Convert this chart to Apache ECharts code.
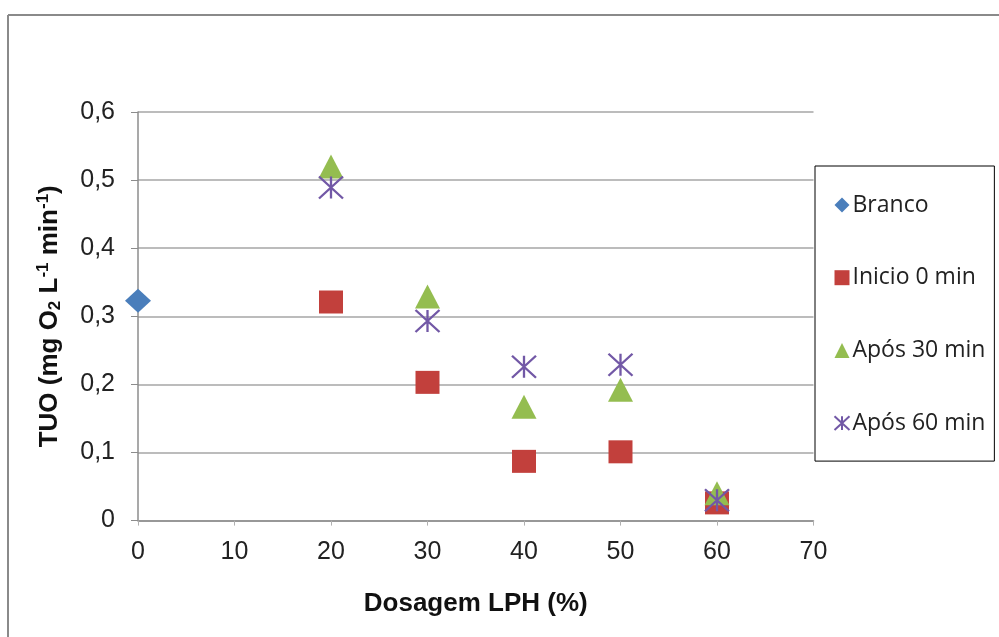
<!DOCTYPE html>
<html><head><meta charset="utf-8">
<script src="https://cdn.jsdelivr.net/npm/echarts@6/dist/echarts.min.js"></script>
<style>html,body{margin:0;padding:0;background:#fff}#c{width:999px;height:637px}</style>
</head><body><div id="c"></div>
<script>
const xTicks = [0, 10, 20, 30, 40, 50, 60, 70];
const yTicks = [0, 0.1, 0.2, 0.3, 0.4, 0.5, 0.6];
const seriesNames = ['Branco', 'Inicio 0 min', 'Após 30 min', 'Após 60 min'];
const brancoX = [0];
const brancoY = [0.323];
const dosesX = [20, 30, 40, 50, 60];
const inicio0 = [0.321, 0.203, 0.087, 0.101, 0.026];
const apos30 = [0.520, 0.329, 0.167, 0.192, 0.040];
const apos60 = [0.489, 0.293, 0.226, 0.229, 0.030];

const pair = (xs, ys) => xs.map((x, i) => [x, ys[i]]);
const chart = echarts.init(document.getElementById('c'), null, {renderer: 'canvas'});
const fmt = v => (v === 0 ? '0' : v.toFixed(1).replace('.', ','));
const star = 'path://M0,0L24,22M24,0L0,22M12,0L12,22';

chart.setOption({
  animation: false,
  backgroundColor: '#fff',
  graphic: [
    {type: 'line', shape: {x1: 8, y1: 15, x2: 999, y2: 15}, style: {stroke: '#8a8a8a', lineWidth: 2}},
    {type: 'line', shape: {x1: 8, y1: 15, x2: 8, y2: 637}, style: {stroke: '#8a8a8a', lineWidth: 2}}
  ],
  grid: {left: 138, right: 185.5, top: 112, bottom: 116.4, containLabel: false},
  legend: {
    orient: 'vertical', left: 815, top: 166,
    padding: [27, 9, 26, 17],
    borderColor: '#000', borderWidth: 1, backgroundColor: '#fff',
    itemWidth: 15, itemHeight: 15, itemGap: 48.7,
    textStyle: {fontFamily: 'Open Sans', fontSize: 23, color: '#222', lineHeight: 24, padding: [0, 0, 0, -2]},
    data: seriesNames
  },
  xAxis: {
    type: 'value', min: xTicks[0], max: xTicks[xTicks.length - 1], interval: 10,
    name: 'Dosagem LPH (%)', nameLocation: 'middle', nameGap: 70,
    nameTextStyle: {fontFamily: 'Liberation Sans', fontWeight: 'bold', fontSize: 26, color: '#111', verticalAlign: 'top'},
    axisLine: {lineStyle: {color: '#8c8c8c', width: 1.5}},
    axisTick: {show: true, length: 5, lineStyle: {color: '#b0b0b0'}},
    axisLabel: {fontFamily: 'Liberation Sans', fontSize: 25, color: '#222', margin: 19},
    splitLine: {show: false}
  },
  yAxis: {
    type: 'value', min: yTicks[0], max: yTicks[yTicks.length - 1], interval: 0.1,
    name: '{b|TUO (mg O}{s|2}{b| L}{p|-1}{b| min}{p|-1}{b|)}',
    nameLocation: 'middle', nameRotate: 90, nameGap: 74,
    nameTextStyle: {
      rich: {
        b: {fontFamily: 'Liberation Sans', fontWeight: 'bold', fontSize: 26, color: '#111'},
        s: {fontFamily: 'Liberation Sans', fontWeight: 'bold', fontSize: 17, color: '#111', verticalAlign: 'bottom', padding: [12, 0, 0, 0]},
        p: {fontFamily: 'Liberation Sans', fontWeight: 'bold', fontSize: 17, color: '#111', verticalAlign: 'top', padding: [0, 0, 12, 0]}
      }
    },
    axisLine: {show: true, lineStyle: {color: '#8c8c8c', width: 1.5}},
    axisTick: {show: true, length: 7, lineStyle: {color: '#8c8c8c'}},
    axisLabel: {fontFamily: 'Liberation Sans', fontSize: 25, color: '#222', margin: 23, formatter: fmt},
    splitLine: {show: true, lineStyle: {color: '#a6a6a6', width: 1.5}}
  },
  series: [
    {name: seriesNames[0], type: 'scatter', data: pair(brancoX, brancoY), symbol: 'diamond', symbolSize: [26, 24],
     itemStyle: {color: '#4a7ebb', opacity: 1}},
    {name: seriesNames[1], type: 'scatter', data: pair(dosesX, inicio0), symbol: 'rect', symbolSize: [24, 23],
     itemStyle: {color: '#c2403c', opacity: 1}},
    {name: seriesNames[2], type: 'scatter', data: pair(dosesX, apos30), symbol: 'triangle', symbolSize: [25, 24],
     itemStyle: {color: '#94bd50', opacity: 1}},
    {name: seriesNames[3], type: 'scatter', data: pair(dosesX, apos60), symbol: star, symbolSize: [24, 22],
     itemStyle: {color: 'none', borderColor: '#7258a6', borderWidth: 2.2, opacity: 1}}
  ]
});
</script></body></html>
